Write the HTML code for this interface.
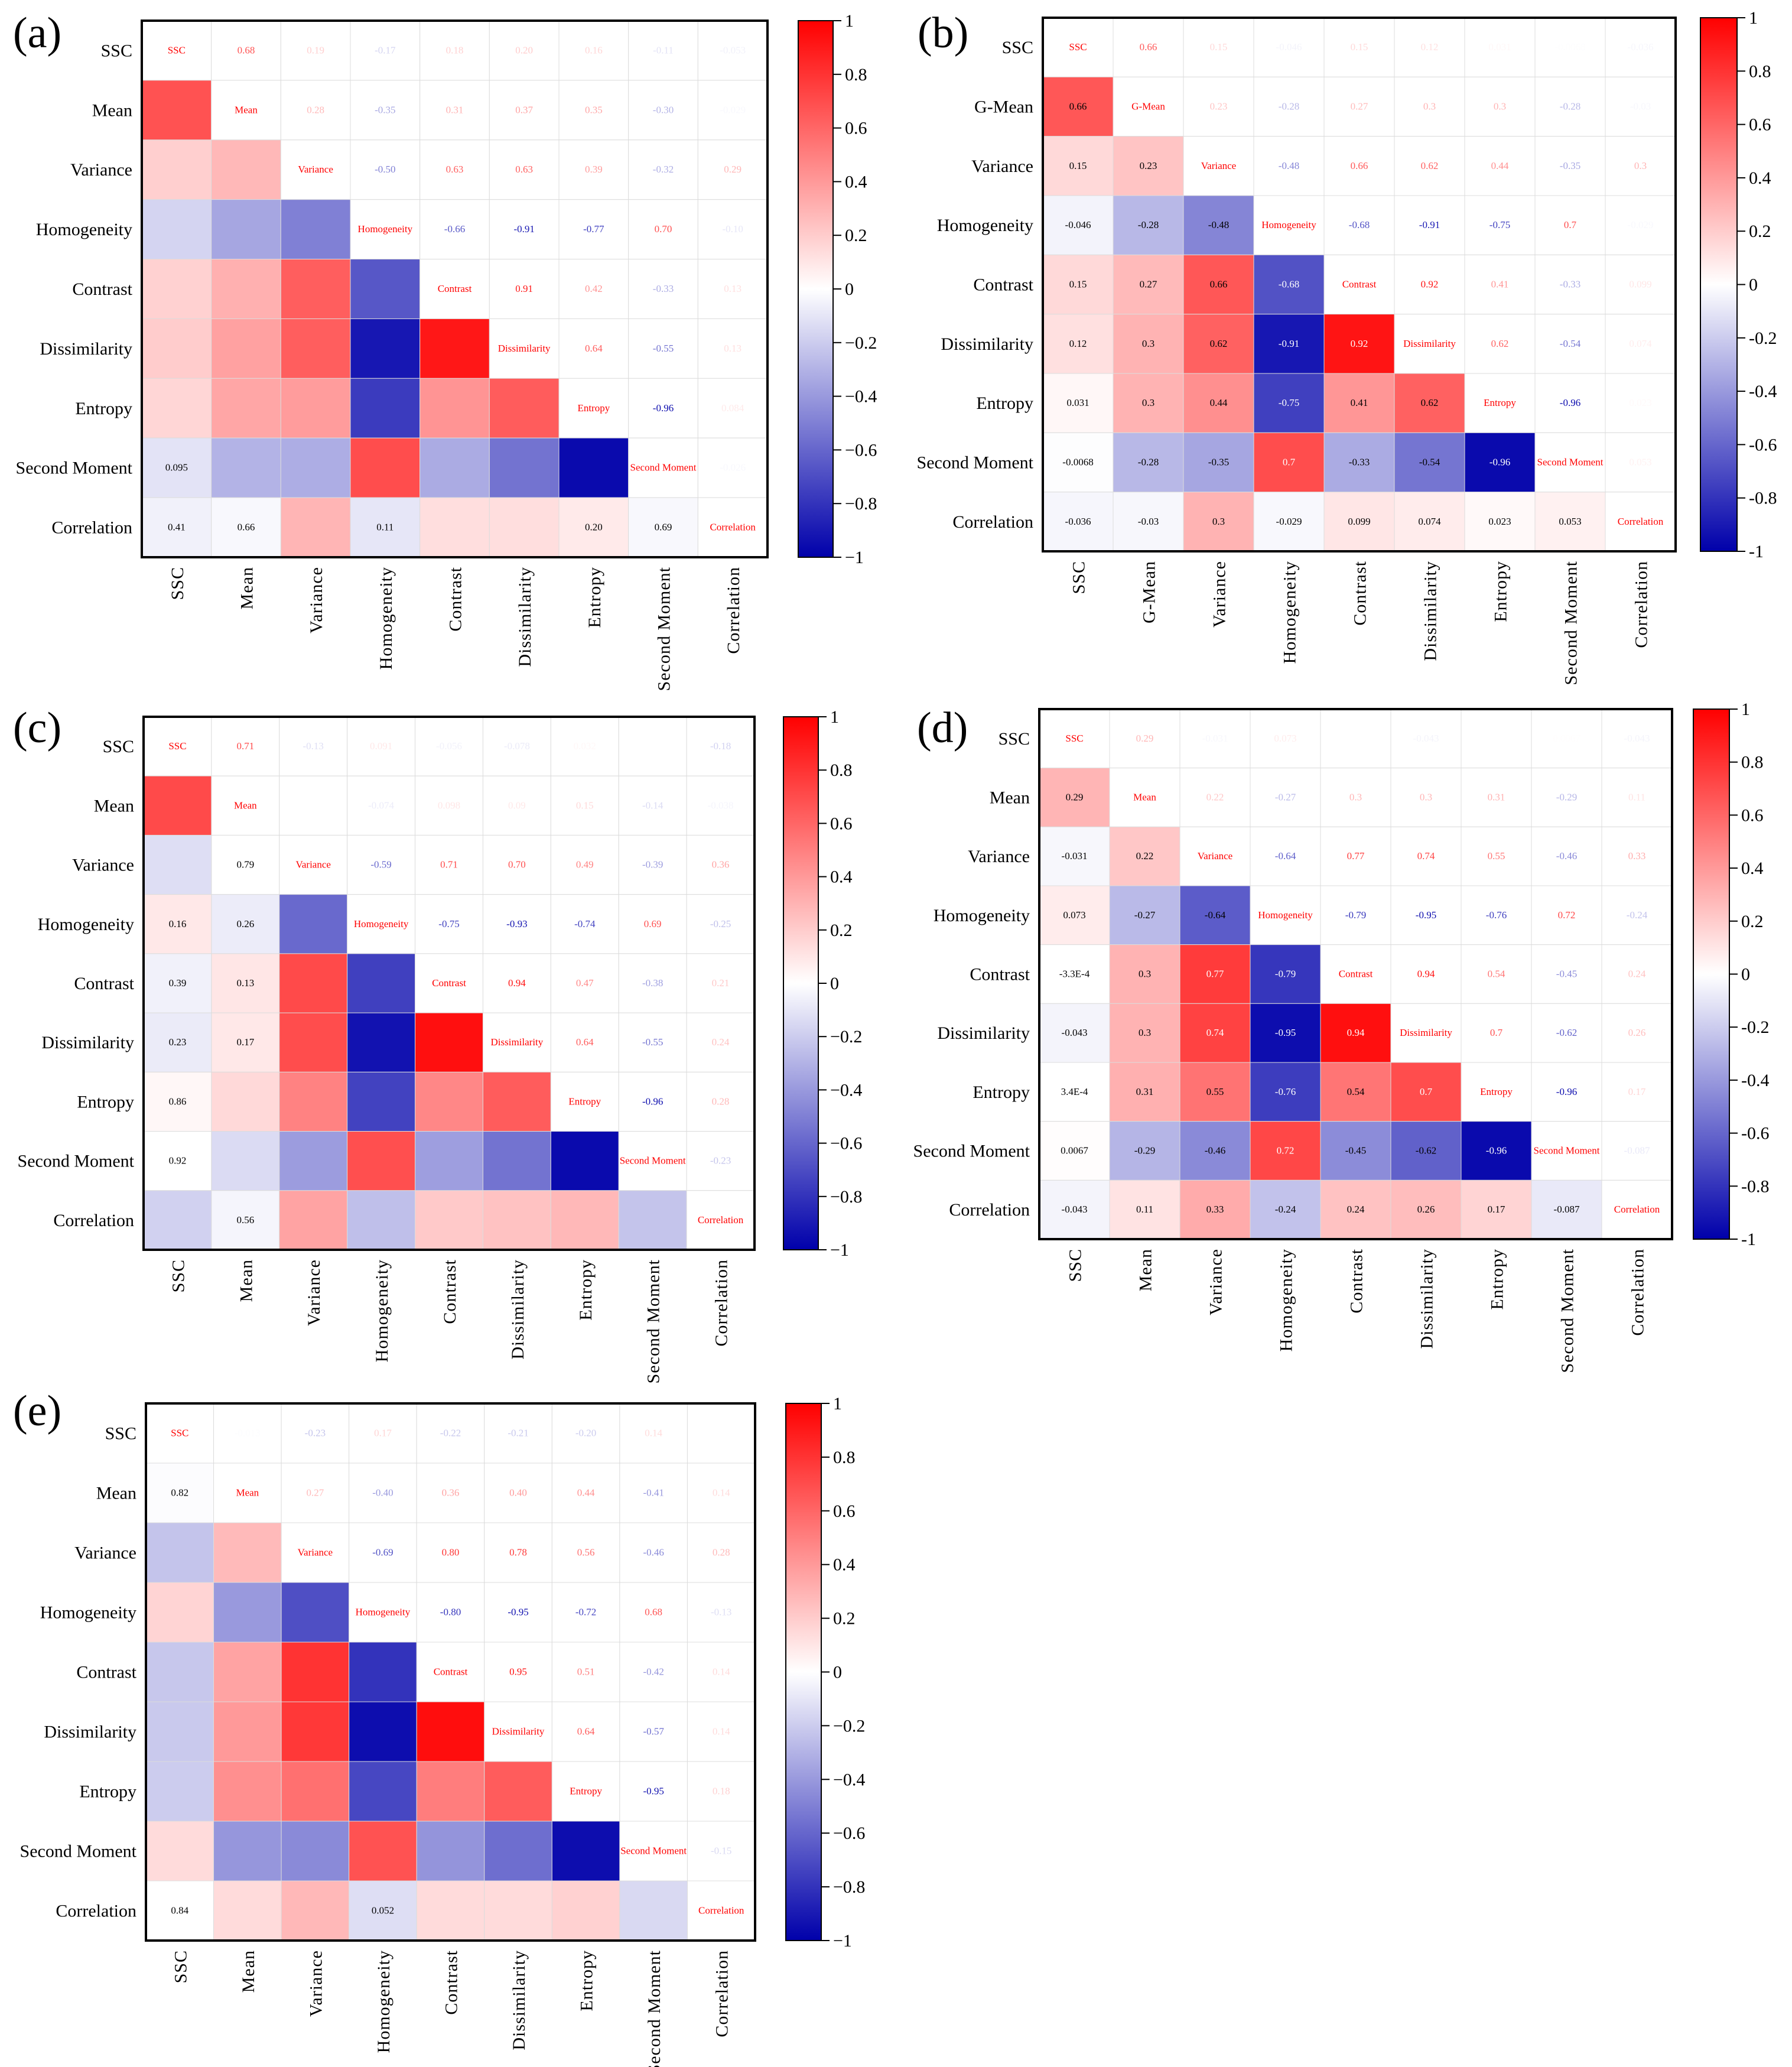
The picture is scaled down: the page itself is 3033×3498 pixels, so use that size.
<!DOCTYPE html>
<html><head><meta charset="utf-8">
<style>
html,body{margin:0;padding:0;background:#fff;}
svg{display:block;}
text{font-family:"Liberation Serif",serif;}
</style></head>
<body>
<svg id="fig" width="3033" height="3498" viewBox="0 0 3033 3498" xmlns="http://www.w3.org/2000/svg">
<defs>
<linearGradient id="cbgrad" x1="0" y1="0" x2="0" y2="1">
<stop offset="0" stop-color="#ff0000"/>
<stop offset="0.5" stop-color="#ffffff"/>
<stop offset="1" stop-color="#0000aa"/>
</linearGradient>
</defs>
</svg>
<script>
// ---- data ----
const labelsA = ['SSC','Mean','Variance','Homogeneity','Contrast','Dissimilarity','Entropy','Second Moment','Correlation'];
const labelsB = ['SSC','G-Mean','Variance','Homogeneity','Contrast','Dissimilarity','Entropy','Second Moment','Correlation'];

const upperA = [
 [0.68,0.19,-0.17,0.18,0.20,0.16,-0.11,-0.053],
 [0.28,-0.35,0.31,0.37,0.35,-0.30,-0.029],
 [-0.50,0.63,0.63,0.39,-0.32,0.29],
 [-0.66,-0.91,-0.77,0.70,-0.10],
 [0.91,0.42,-0.33,0.13],
 [0.64,-0.55,0.13],
 [-0.96,0.084],
 [-0.026]
];
const lowerTextA = [[7,0,'0.095'],[8,0,'0.41'],[8,1,'0.66'],[8,3,'0.11'],[8,6,'0.20'],[8,7,'0.69']];

const upperB = [
 [0.66,0.15,-0.046,0.15,0.12,0.031,-0.0068,-0.036],
 [0.23,-0.28,0.27,0.3,0.3,-0.28,-0.03],
 [-0.48,0.66,0.62,0.44,-0.35,0.3],
 [-0.68,-0.91,-0.75,0.7,-0.029],
 [0.92,0.41,-0.33,0.099],
 [0.62,-0.54,0.074],
 [-0.96,0.023],
 [0.053]
];

const upperC = [
 [0.71,-0.13,0.091,-0.056,-0.078,0.032,null,-0.18],
 [null,-0.074,0.098,0.090,0.15,-0.14,-0.038],
 [-0.59,0.71,0.70,0.49,-0.39,0.36],
 [-0.75,-0.93,-0.74,0.69,-0.25],
 [0.94,0.47,-0.38,0.21],
 [0.64,-0.55,0.24],
 [-0.96,0.28],
 [-0.23]
];
const lowerTextC = [[2,1,'0.79'],[3,0,'0.16'],[3,1,'0.26'],[4,0,'0.39'],[4,1,'0.13'],[5,0,'0.23'],[5,1,'0.17'],[6,0,'0.86'],[7,0,'0.92'],[8,1,'0.56']];

const upperD = [
 [0.29,-0.031,0.073,-0.00033,-0.043,0.00034,0.0067,-0.043],
 [0.22,-0.27,0.3,0.3,0.31,-0.29,0.11],
 [-0.64,0.77,0.74,0.55,-0.46,0.33],
 [-0.79,-0.95,-0.76,0.72,-0.24],
 [0.94,0.54,-0.45,0.24],
 [0.7,-0.62,0.26],
 [-0.96,0.17],
 [-0.087]
];

const upperE = [
 [-0.013,-0.23,0.17,-0.22,-0.21,-0.20,0.14,null],
 [0.27,-0.40,0.36,0.40,0.44,-0.41,0.14],
 [-0.69,0.80,0.78,0.56,-0.46,0.28],
 [-0.80,-0.95,-0.72,0.68,-0.13],
 [0.95,0.51,-0.42,0.14],
 [0.64,-0.57,0.14],
 [-0.95,0.18],
 [-0.15]
];
const lowerTextE = [[1,0,'0.82'],[8,0,'0.84'],[8,3,'0.052']];

const cbTicks = [1,0.8,0.6,0.4,0.2,0,-0.2,-0.4,-0.6,-0.8,-1];

// ---- layout ----
const panels = [
 {id:'a', labels:labelsA, upper:upperA, lower:lowerTextA, fmt:'fixed', minus:'\u2212', bx:240, by:35, bw:1059, bh:908, cx:1351, cw:59, tagX:22, tagY:80},
 {id:'b', labels:labelsB, upper:upperB, lower:'all', fmt:'plain', minus:'-', bx:1765, by:30, bw:1071, bh:903, cx:2878, cw:62, tagX:1553, tagY:80},
 {id:'c', labels:labelsA, upper:upperC, lower:lowerTextC, fmt:'fixed', minus:'\u2212', bx:243, by:1213, bw:1034, bh:902, cx:1326, cw:59, tagX:22, tagY:1256},
 {id:'d', labels:labelsA, upper:upperD, lower:'all', fmt:'plain', minus:'-', bx:1759, by:1200, bw:1071, bh:897, cx:2866, cw:61, tagX:1552, tagY:1256},
 {id:'e', labels:labelsA, upper:upperE, lower:lowerTextE, fmt:'fixed', minus:'\u2212', bx:247, by:2375, bw:1031, bh:909, cx:1330, cw:60, tagX:22, tagY:2412}
];

const NS = 'http://www.w3.org/2000/svg';
const svg = document.getElementById('fig');

function mk(tag, attrs, parent){
  const e = document.createElementNS(NS, tag);
  for (const k in attrs) e.setAttribute(k, attrs[k]);
  (parent||svg).appendChild(e);
  return e;
}
function colorOf(v){
  if (v===null) v=0;
  let r,g,b;
  if (v>=0){ r=255; g=Math.round(255*(1-v)); b=g; }
  else { const t=-v; r=Math.round(255*(1-t)); g=r; b=Math.round(255-85*t); }
  return 'rgb('+r+','+g+','+b+')';
}
function fmtVal(v, mode){
  if (v===null) return '';
  if (v!==0 && Math.abs(v)<0.001){
    const e = Math.floor(Math.log10(Math.abs(v)));
    const m = v/Math.pow(10,e);
    return m.toFixed(1)+'E'+e;
  }
  if (mode==='fixed' && Math.abs(v)>=0.1) return v.toFixed(2);
  return String(v);
}
function fullVal(p,i,j){
  if (i===j) return 1;
  const a=Math.min(i,j), b=Math.max(i,j);
  return p.upper[a][b-a-1];
}

panels.forEach(p=>{
  const g = mk('g',{});
  
  
  const n = p.labels.length;
  const cw = p.bw/n, ch = p.bh/n;
  const xS = j => p.bx + j*cw;
  const yS = i => p.by + i*ch;

  const tag = mk('text',{x:p.tagX,y:p.tagY,'font-size':74,fill:'#000'},g);
  tag.textContent='('+p.id+')';
  
  

  for (let i=0;i<n;i++){
    for (let j=0;j<n;j++){
      const v = fullVal(p,i,j);
      const cx = xS(j)+cw/2, cy = yS(i)+ch/2+5;
      if (i>j){
        const r = mk('rect',{x:xS(j),y:yS(i),width:cw,height:ch,fill:colorOf(v),stroke:'#dcdcdc','stroke-width':1},g);
        
        
        let txt=null;
        if (p.lower==='all') txt = fmtVal(v,p.fmt);
        else { const f = p.lower.find(e=>e[0]===i&&e[1]===j); if (f) txt=f[2]; }
        if (txt){
          const t = mk('text',{x:cx,y:cy,'font-size':17,'text-anchor':'middle',fill:(v!==null&&Math.abs(v)>0.67)?'#fff':'#000'},g);
          t.textContent = txt;
          
          
        }
      } else {
        const r = mk('rect',{x:xS(j),y:yS(i),width:cw,height:ch,fill:'#fff',stroke:'#dcdcdc','stroke-width':1},g);
        
        
        const t = mk('text',{x:cx,y:cy,'font-size':17,'text-anchor':'middle',fill:i===j?'#ff0000':colorOf(v)},g);
        t.textContent = i===j ? p.labels[i] : fmtVal(v,p.fmt);
        
        
      }
    }
  }
  const border = mk('rect',{x:p.bx,y:p.by,width:p.bw,height:p.bh,fill:'none',stroke:'#000','stroke-width':4},g);
  
  

  for (let i=0;i<n;i++){
    const t = mk('text',{x:p.bx-16,y:yS(i)+ch/2+10,'font-size':30,'text-anchor':'end',fill:'#000'},g);
    t.textContent = p.labels[i];
    
    
    const tx = xS(i)+cw/2+11, ty = p.by+p.bh+16;
    const t2 = mk('text',{x:tx,y:ty,'font-size':30,'text-anchor':'end','letter-spacing':1,fill:'#000',transform:'rotate(-90 '+tx+' '+ty+')'},g);
    t2.textContent = p.labels[i];
    
    
  }

  const cb = mk('rect',{x:p.cx,y:p.by,width:p.cw,height:p.bh,fill:'url(#cbgrad)',stroke:'#000','stroke-width':2},g);
  
  
  const cyS = v => p.by + (1-v)/2*p.bh;
  cbTicks.forEach(v=>{
    const y = cyS(v);
    const l = mk('line',{x1:p.cx+p.cw,x2:p.cx+p.cw+14,y1:y,y2:y,stroke:'#000','stroke-width':2},g);
    
    
    const t = mk('text',{x:p.cx+p.cw+20,y:y+10,'font-size':30,fill:'#000'},g);
    t.textContent = (v<0?p.minus:'')+String(Math.abs(v));
    
    
  });
});
</script>
</body></html>
